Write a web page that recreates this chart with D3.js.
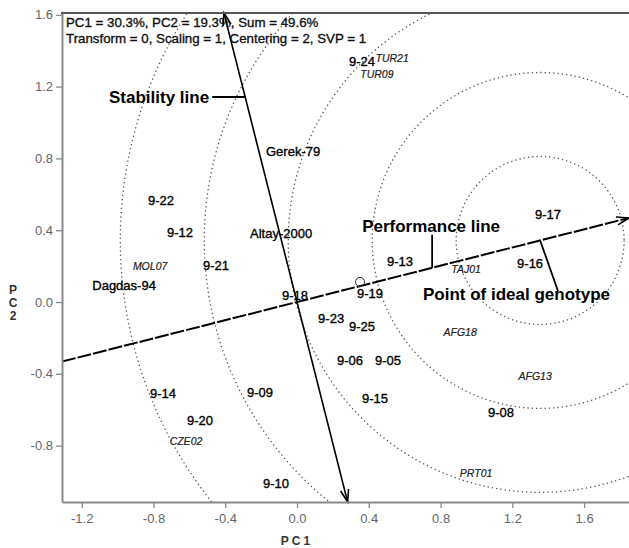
<!DOCTYPE html>
<html>
<head>
<meta charset="utf-8">
<script src="https://cdn.jsdelivr.net/npm/d3@7"></script>
<style>
  body { margin: 0; background: #fff; }
  svg text { font-family: "Liberation Sans", Arial, sans-serif; }
</style>
</head>
<body>
<svg id="chart" width="629" height="548"></svg>
<script>
// GGE biplot: "mean vs. stability" view with the ideal-genotype ranking circles.

const xTicks = [-1.2, -0.8, -0.4, 0.0, 0.4, 0.8, 1.2, 1.6];
const yTicks = [-0.8, -0.4, 0.0, 0.4, 0.8, 1.2, 1.6];

const headerLines = [
  "PC1 = 30.3%, PC2 = 19.3%, Sum = 49.6%",
  "Transform = 0, Scaling = 1, Centering = 2, SVP = 1"
];

// Genotype scores (PC1, PC2)
const genotypeNames = ["Gerek-79", "9-22", "9-12", "Altay-2000", "9-21", "Dagdas-94", "9-18", "9-19",
  "9-13", "9-17", "9-16", "9-23", "9-25", "9-06", "9-05", "9-15", "9-08", "9-14", "9-09", "9-20",
  "9-10", "9-24"];
const genotypePC1 = [-0.022, -0.758, -0.652, -0.089, -0.452, -0.964, -0.011, 0.407,
  0.574, 1.399, 1.299, 0.190, 0.362, 0.295, 0.507, 0.435, 1.137, -0.747, -0.206, -0.541,
  -0.117, 0.362];
const genotypePC2 = [0.836, 0.568, 0.390, 0.384, 0.206, 0.095, 0.039, 0.045,
  0.228, 0.490, 0.217, -0.089, -0.134, -0.323, -0.323, -0.535, -0.613, -0.507, -0.501, -0.657,
  -1.008, 1.34];

// Environment scores (PC1, PC2)
const envNames = ["MOL07", "TAJ01", "AFG18", "AFG13", "PRT01", "CZE02", "TUR21", "TUR09"];
const envPC1 = [-0.819, 0.942, 0.909, 1.327, 0.998, -0.619, 0.53, 0.445];
const envPC2 = [0.201, 0.184, -0.167, -0.412, -0.953, -0.774, 1.36, 1.268];

// Average environment marker, ideal genotype and concentric distance circles
const averageEnv = [0.351, 0.112];
const idealPoint = [1.355, 0.343];
const circleRadii = [0.468, 0.936, 1.404, 1.872, 2.34];

const annotations = ["Stability line", "Performance line", "Point of ideal genotype"];

const svg = d3.select("#chart");
const plotLeft = 62, plotRight = 629.5, plotTop = 13, plotBottom = 502;

const x = d3.scaleLinear().domain([-1.31, 1.853]).range([plotLeft, plotRight]);
const y = d3.scaleLinear().domain([-1.114, 1.61]).range([plotBottom, plotTop]);
const pxPerUnit = x(1) - x(0);

svg.append("defs").append("clipPath").attr("id", "plotClip")
  .append("rect").attr("x", plotLeft).attr("y", plotTop)
  .attr("width", plotRight - plotLeft).attr("height", plotBottom - plotTop);

const plot = svg.append("g").attr("clip-path", "url(#plotClip)");

// Concentric circles around the ideal genotype
plot.selectAll("circle.ring").data(circleRadii).join("circle")
  .attr("class", "ring")
  .attr("cx", x(idealPoint[0])).attr("cy", y(idealPoint[1]))
  .attr("r", d => d * pxPerUnit)
  .attr("fill", "none").attr("stroke", "#555").attr("stroke-width", 1.3)
  .attr("stroke-dasharray", "1.3,3");

// Performance line (average environment axis) through origin and ideal point
const slope = idealPoint[1] / idealPoint[0];
const pStart = [x.domain()[0], x.domain()[0] * slope];
const pEnd = [1.85, 1.85 * slope];
plot.append("line")
  .attr("x1", x(pStart[0])).attr("y1", y(pStart[1]))
  .attr("x2", x(pEnd[0])).attr("y2", y(pEnd[1]))
  .attr("stroke", "#000").attr("stroke-width", 2).attr("stroke-dasharray", "14,2");

// Stability line, perpendicular to the performance line
const sTop = [-slope * y.domain()[1], y.domain()[1]];
const sBot = [-slope * y.domain()[0], y.domain()[0]];
plot.append("line")
  .attr("x1", x(sTop[0])).attr("y1", y(sTop[1]))
  .attr("x2", x(sBot[0])).attr("y2", y(sBot[1]))
  .attr("stroke", "#000").attr("stroke-width", 1.6);

function arrowHead(from, to) {
  const x1 = x(from[0]), y1 = y(from[1]), x2 = x(to[0]), y2 = y(to[1]);
  const a = Math.atan2(y2 - y1, x2 - x1);
  const len = 13, spread = 0.32;
  const pts = [
    [x2 - len * Math.cos(a - spread), y2 - len * Math.sin(a - spread)],
    [x2, y2],
    [x2 - len * Math.cos(a + spread), y2 - len * Math.sin(a + spread)]
  ];
  svg.append("path").attr("d", d3.line()(pts))
    .attr("fill", "none").attr("stroke", "#000").attr("stroke-width", 1.6);
}
arrowHead([0, 0], pEnd);
arrowHead([0, 0], sTop);
arrowHead([0, 0], sBot);

// Average environment marker
plot.append("circle")
  .attr("cx", x(averageEnv[0])).attr("cy", y(averageEnv[1])).attr("r", 4.5)
  .attr("fill", "none").attr("stroke", "#333").attr("stroke-width", 1);

// Axes
const fmt = d => d.toFixed(1);
const xAxis = svg.append("g").attr("transform", `translate(0,${plotBottom})`)
  .call(d3.axisBottom(x).tickValues(xTicks).tickFormat(fmt).tickSize(6).tickSizeOuter(0).tickPadding(6));
const yAxis = svg.append("g").attr("transform", `translate(${plotLeft},0)`)
  .call(d3.axisLeft(y).tickValues(yTicks).tickFormat(fmt).tickSize(6).tickSizeOuter(0).tickPadding(3));
[xAxis, yAxis].forEach(g => {
  g.select(".domain").attr("stroke", "#8a8a8a").attr("stroke-width", 2);
  g.selectAll(".tick line").attr("stroke", "#8a8a8a").attr("stroke-width", 1.3);
  g.selectAll(".tick text").attr("fill", "#666").attr("font-size", 13)
    .attr("font-family", "'Liberation Sans', Arial, sans-serif");
});
svg.append("line").attr("x1", plotLeft - 1).attr("x2", 629).attr("y1", plotTop).attr("y2", plotTop)
  .attr("stroke", "#555").attr("stroke-width", 2);

// Axis titles
svg.append("text").attr("x", x(0)).attr("y", 545).attr("text-anchor", "middle")
  .attr("font-size", 12).attr("font-weight", "bold").attr("fill", "#333")
  .attr("letter-spacing", 3).text("PC1");
["P", "C", "2"].forEach((ch, i) => {
  svg.append("text").attr("x", 13).attr("y", 294 + i * 13).attr("text-anchor", "middle")
    .attr("font-size", 12).attr("font-weight", "bold").attr("fill", "#333").text(ch);
});

// Header
svg.selectAll("text.header").data(headerLines).join("text")
  .attr("class", "header")
  .attr("x", 66).attr("y", (d, i) => 27 + i * 15.5)
  .attr("font-size", 13.3).attr("fill", "#111")
  .attr("stroke", "#111").attr("stroke-width", 0.35).text(d => d);

// Environment labels (italic)
svg.selectAll("text.env").data(envNames).join("text")
  .attr("class", "env")
  .attr("x", (d, i) => x(envPC1[i])).attr("y", (d, i) => y(envPC2[i]))
  .attr("dy", "0.35em").attr("text-anchor", "middle")
  .attr("font-size", 10.5).attr("font-style", "italic").attr("fill", "#222")
  .attr("stroke", "#222").attr("stroke-width", 0.2)
  .text(d => d);

// Genotype labels
svg.selectAll("text.geno").data(genotypeNames).join("text")
  .attr("class", "geno")
  .attr("x", (d, i) => x(genotypePC1[i])).attr("y", (d, i) => y(genotypePC2[i]))
  .attr("dy", "0.35em").attr("text-anchor", "middle")
  .attr("font-size", 13).attr("fill", "#000")
  .attr("stroke", "#000").attr("stroke-width", 0.35)
  .text(d => d);

// Annotations with leader lines
const annStyle = s => s.attr("font-size", 17).attr("font-weight", "bold").attr("fill", "#000");

const stabFootY = 1.142;
const stabFoot = [x(-slope * stabFootY), y(stabFootY)];
svg.append("line").attr("x1", stabFoot[0] - 33).attr("x2", stabFoot[0])
  .attr("y1", stabFoot[1]).attr("y2", stabFoot[1]).attr("stroke", "#000").attr("stroke-width", 1.8);
svg.append("text").attr("x", stabFoot[0] - 36).attr("y", stabFoot[1] + 6)
  .attr("text-anchor", "end").call(annStyle).text(annotations[0]);

const perfFootX = 0.753;
const perfFoot = [x(perfFootX), y(perfFootX * slope)];
svg.append("line").attr("x1", perfFoot[0]).attr("x2", perfFoot[0])
  .attr("y1", perfFoot[1] - 33).attr("y2", perfFoot[1]).attr("stroke", "#000").attr("stroke-width", 1.8);
svg.append("text").attr("x", perfFoot[0] - 70).attr("y", perfFoot[1] - 36)
  .call(annStyle).text(annotations[1]);

const ip = [x(idealPoint[0]), y(idealPoint[1])];
svg.append("line").attr("x1", ip[0]).attr("y1", ip[1]).attr("x2", ip[0] + 18).attr("y2", ip[1] + 51)
  .attr("stroke", "#000").attr("stroke-width", 1.8);
svg.append("text").attr("x", 423).attr("y", ip[1] + 60)
  .call(annStyle).text(annotations[2]);
</script>
</body>
</html>
